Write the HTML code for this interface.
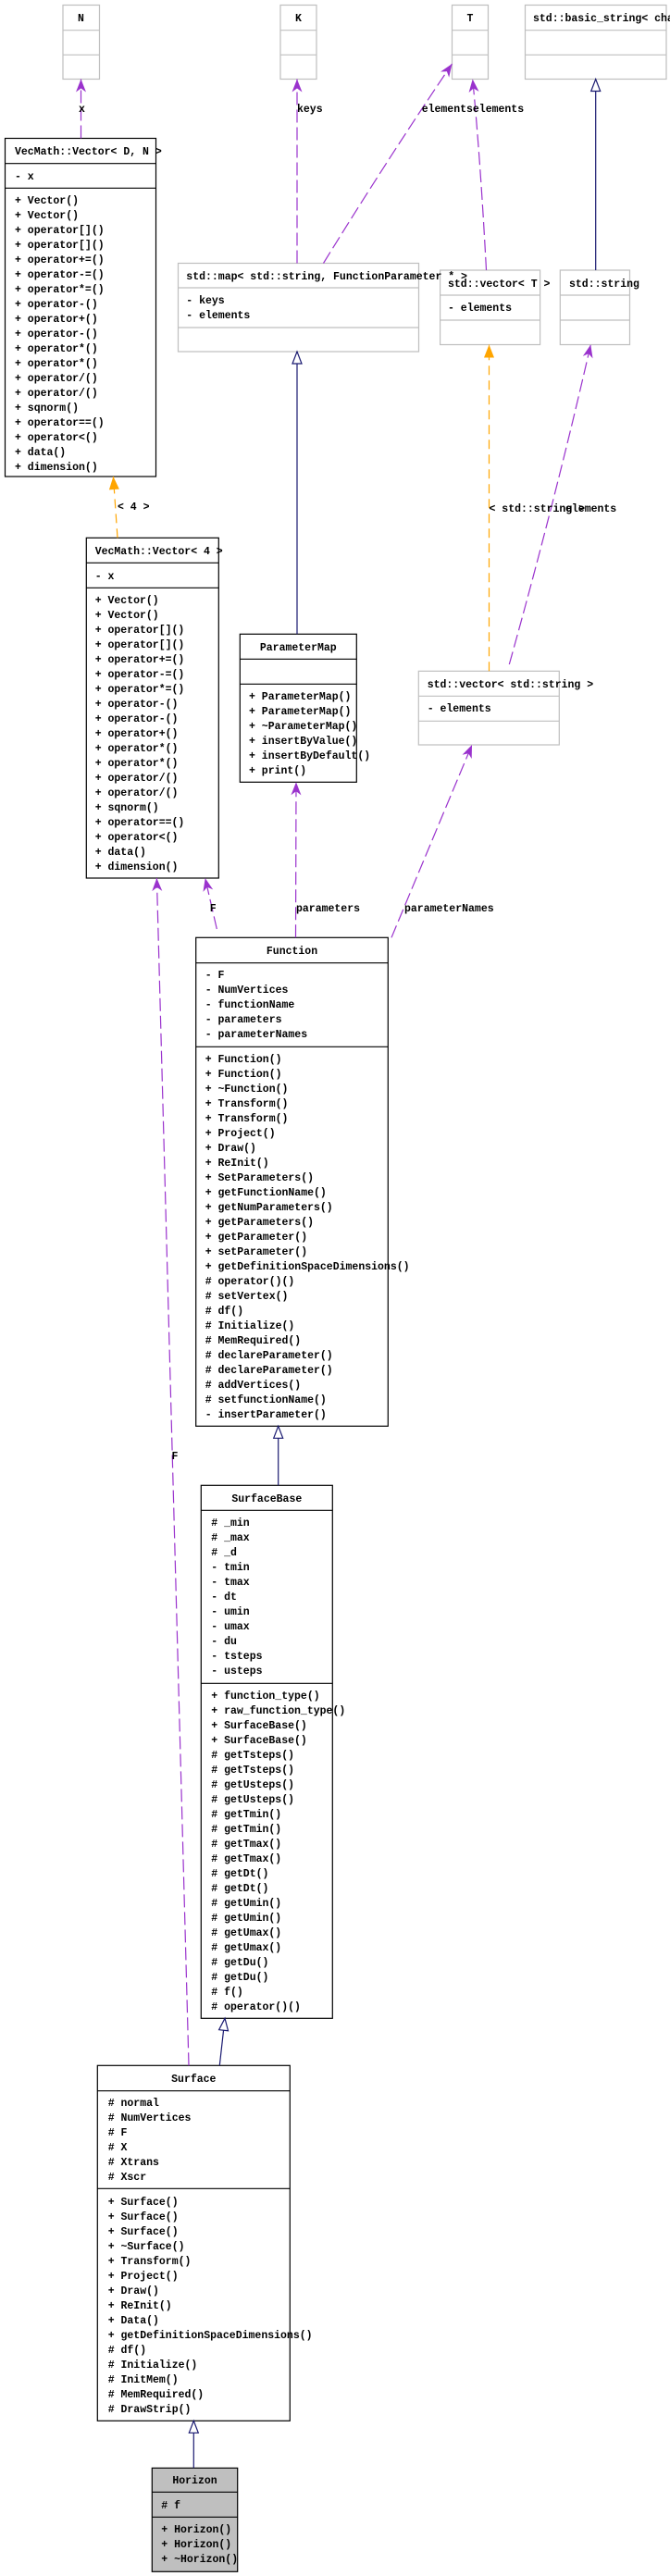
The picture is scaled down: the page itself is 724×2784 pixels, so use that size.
<!DOCTYPE html>
<html><head><meta charset="utf-8"><style>
html,body{margin:0;padding:0;background:#fff;}
svg{display:block;}
text{font-family:"Liberation Mono",monospace;font-size:11.5px;font-weight:bold;fill:#000;}
</style></head><body>
<svg width="724" height="2784" viewBox="0 0 724 2784" xmlns="http://www.w3.org/2000/svg">
<defs>
<marker id="pv" markerUnits="userSpaceOnUse" orient="auto" overflow="visible" refX="0" refY="0" markerWidth="1" markerHeight="1"><path d="M-14,-5.5 L0,0 L-14,5.5 L-10,0 Z" fill="#9a32cd"/></marker>
<marker id="po" markerUnits="userSpaceOnUse" orient="auto" overflow="visible" refX="0" refY="0" markerWidth="1" markerHeight="1"><path d="M-14,-5.5 L0,0 L-14,5.5 Z" fill="#ffa500"/></marker>
<marker id="pn" markerUnits="userSpaceOnUse" orient="auto" overflow="visible" refX="0" refY="0" markerWidth="1" markerHeight="1"><path d="M-13,-5 L0,0 L-13,5 Z" fill="#fff" stroke="#191970" stroke-width="1.2"/></marker>
</defs>

<g fill="#fff" stroke="#bfbfbf" stroke-width="1.2">
<rect x="68" y="5.5" width="39.5" height="80"/><line x1="68" y1="32.7" x2="107.5" y2="32.7"/><line x1="68" y1="59.3" x2="107.5" y2="59.3"/>
<rect x="303" y="5.5" width="39" height="80"/><line x1="303" y1="32.7" x2="342" y2="32.7"/><line x1="303" y1="59.3" x2="342" y2="59.3"/>
<rect x="488.5" y="5.5" width="39" height="80"/><line x1="488.5" y1="32.7" x2="527.5" y2="32.7"/><line x1="488.5" y1="59.3" x2="527.5" y2="59.3"/>
<rect x="567.5" y="5.5" width="152.5" height="80"/><line x1="567.5" y1="32.7" x2="720" y2="32.7"/><line x1="567.5" y1="59.3" x2="720" y2="59.3"/>
<rect x="192.5" y="284.5" width="260" height="95.5"/><line x1="192.5" y1="311" x2="452.5" y2="311"/><line x1="192.5" y1="354" x2="452.5" y2="354"/>
<rect x="475.6" y="292" width="108" height="80.5"/><line x1="475.6" y1="319" x2="583.6" y2="319"/><line x1="475.6" y1="346" x2="583.6" y2="346"/>
<rect x="605.3" y="292" width="75.2" height="80.5"/><line x1="605.3" y1="319" x2="680.5" y2="319"/><line x1="605.3" y1="346" x2="680.5" y2="346"/>
<rect x="452.3" y="725.3" width="152" height="79.7"/><line x1="452.3" y1="752.3" x2="604.3" y2="752.3"/><line x1="452.3" y1="779.3" x2="604.3" y2="779.3"/>
</g>

<g fill="#fff" stroke="#000" stroke-width="1.2">
<rect x="5.5" y="149.5" width="163" height="365.5"/><line x1="5.5" y1="176.7" x2="168.5" y2="176.7"/><line x1="5.5" y1="203.3" x2="168.5" y2="203.3"/>
<rect x="93.3" y="581.3" width="143" height="367.7"/><line x1="93.3" y1="608.3" x2="236.3" y2="608.3"/><line x1="93.3" y1="635.3" x2="236.3" y2="635.3"/>
<rect x="259.3" y="685.3" width="126" height="160"/><line x1="259.3" y1="712.3" x2="385.3" y2="712.3"/><line x1="259.3" y1="739.3" x2="385.3" y2="739.3"/>
<rect x="211.7" y="1013.3" width="207.6" height="528"/><line x1="211.7" y1="1040.7" x2="419.3" y2="1040.7"/><line x1="211.7" y1="1131.3" x2="419.3" y2="1131.3"/>
<rect x="217.3" y="1605.3" width="142" height="576"/><line x1="217.3" y1="1632.3" x2="359.3" y2="1632.3"/><line x1="217.3" y1="1819.3" x2="359.3" y2="1819.3"/>
<rect x="105.3" y="2232.3" width="208" height="384"/><line x1="105.3" y1="2259.7" x2="313.3" y2="2259.7"/><line x1="105.3" y1="2365.3" x2="313.3" y2="2365.3"/>
<rect x="164.3" y="2667.3" width="92.4" height="112" fill="#bfbfbf"/><line x1="164.3" y1="2693.3" x2="256.7" y2="2693.3"/><line x1="164.3" y1="2720.3" x2="256.7" y2="2720.3"/>
</g>

<g fill="none" stroke-width="1.2">
<line x1="87.5" y1="149.5" x2="87.5" y2="85.5" stroke="#9a32cd" stroke-dasharray="14,5" marker-end="url(#pv)"/>
<line x1="321" y1="284.5" x2="321" y2="85.5" stroke="#9a32cd" stroke-dasharray="14,5" marker-end="url(#pv)"/>
<path d="M349.5,284.5 Q420,170 488.5,69" stroke="#9a32cd" stroke-dasharray="14,5" marker-end="url(#pv)"/>
<path d="M525.5,292 Q519,170 510.7,85.5" stroke="#9a32cd" stroke-dasharray="14,5" marker-end="url(#pv)"/>
<line x1="643.7" y1="292" x2="643.7" y2="85.5" stroke="#191970" marker-end="url(#pn)"/>
<line x1="321" y1="685.3" x2="321" y2="380" stroke="#191970" marker-end="url(#pn)"/>
<line x1="127" y1="581.3" x2="122.4" y2="515" stroke="#ffa500" stroke-dasharray="10,6" marker-end="url(#po)"/>
<line x1="528.5" y1="725.3" x2="528.5" y2="372.5" stroke="#ffa500" stroke-dasharray="10,6" marker-end="url(#po)"/>
<path d="M550.3,718 Q600,540 638.3,372.5" stroke="#9a32cd" stroke-dasharray="14,5" marker-end="url(#pv)"/>
<line x1="234.3" y1="1004" x2="221.7" y2="949" stroke="#9a32cd" stroke-dasharray="14,5" marker-end="url(#pv)"/>
<line x1="319.5" y1="1013.3" x2="320" y2="845.3" stroke="#9a32cd" stroke-dasharray="14,5" marker-end="url(#pv)"/>
<line x1="423" y1="1013.3" x2="510" y2="805" stroke="#9a32cd" stroke-dasharray="14,5" marker-end="url(#pv)"/>
<line x1="204" y1="2232.3" x2="169.4" y2="949" stroke="#9a32cd" stroke-dasharray="14,5" marker-end="url(#pv)"/>
<line x1="300.7" y1="1605.3" x2="300.7" y2="1541.3" stroke="#191970" marker-end="url(#pn)"/>
<line x1="237.3" y1="2232.3" x2="243" y2="2181.3" stroke="#191970" marker-end="url(#pn)"/>
<line x1="209.3" y1="2667.3" x2="209.3" y2="2616.3" stroke="#191970" marker-end="url(#pn)"/>
</g>

<text x="85" y="121">x</text>
<text x="321" y="121">keys</text>
<text x="455.7" y="121">elementselements</text>
<text x="127" y="551">&lt; 4 &gt;</text>
<text x="528.5" y="553">&lt; std::string &gt;</text>
<text x="611" y="553">elements</text>
<text x="226.7" y="985">F</text>
<text x="320" y="985">parameters</text>
<text x="437" y="985">parameterNames</text>
<text x="185.5" y="1577">F</text>

<text x="87.5" y="23" text-anchor="middle">N</text>
<text x="322.5" y="23" text-anchor="middle">K</text>
<text x="508" y="23" text-anchor="middle">T</text>
<text x="576" y="23">std::basic_string&lt; char &gt;</text>
<text x="16" y="167">VecMath::Vector&lt; D, N &gt;</text>
<text x="201.3" y="302">std::map&lt; std::string, FunctionParameter * &gt;</text>
<text x="484" y="310">std::vector&lt; T &gt;</text>
<text x="615" y="310">std::string</text>
<text x="461.7" y="743">std::vector&lt; std::string &gt;</text>
<text x="102.7" y="599">VecMath::Vector&lt; 4 &gt;</text>
<text x="322.3" y="703" text-anchor="middle">ParameterMap</text>
<text x="315.5" y="1031" text-anchor="middle">Function</text>
<text x="288.3" y="1623" text-anchor="middle">SurfaceBase</text>
<text x="209.3" y="2250" text-anchor="middle">Surface</text>
<text x="210.5" y="2684" text-anchor="middle">Horizon</text>

<text x="16" y="194">- x</text>
<text x="16" y="220"><tspan x="16" y="220">+ Vector()</tspan><tspan x="16" dy="16">+ Vector()</tspan><tspan x="16" dy="16">+ operator[]()</tspan><tspan x="16" dy="16">+ operator[]()</tspan><tspan x="16" dy="16">+ operator+=()</tspan><tspan x="16" dy="16">+ operator-=()</tspan><tspan x="16" dy="16">+ operator*=()</tspan><tspan x="16" dy="16">+ operator-()</tspan><tspan x="16" dy="16">+ operator+()</tspan><tspan x="16" dy="16">+ operator-()</tspan><tspan x="16" dy="16">+ operator*()</tspan><tspan x="16" dy="16">+ operator*()</tspan><tspan x="16" dy="16">+ operator/()</tspan><tspan x="16" dy="16">+ operator/()</tspan><tspan x="16" dy="16">+ sqnorm()</tspan><tspan x="16" dy="16">+ operator==()</tspan><tspan x="16" dy="16">+ operator&lt;()</tspan><tspan x="16" dy="16">+ data()</tspan><tspan x="16" dy="16">+ dimension()</tspan></text>

<text x="201.3" y="328"><tspan x="201.3" y="328">- keys</tspan><tspan x="201.3" dy="16">- elements</tspan></text>
<text x="484" y="336">- elements</text>
<text x="461.7" y="769">- elements</text>

<text x="102.7" y="626">- x</text>
<text x="102.7" y="652"><tspan x="102.7" y="652">+ Vector()</tspan><tspan x="102.7" dy="16">+ Vector()</tspan><tspan x="102.7" dy="16">+ operator[]()</tspan><tspan x="102.7" dy="16">+ operator[]()</tspan><tspan x="102.7" dy="16">+ operator+=()</tspan><tspan x="102.7" dy="16">+ operator-=()</tspan><tspan x="102.7" dy="16">+ operator*=()</tspan><tspan x="102.7" dy="16">+ operator-()</tspan><tspan x="102.7" dy="16">+ operator-()</tspan><tspan x="102.7" dy="16">+ operator+()</tspan><tspan x="102.7" dy="16">+ operator*()</tspan><tspan x="102.7" dy="16">+ operator*()</tspan><tspan x="102.7" dy="16">+ operator/()</tspan><tspan x="102.7" dy="16">+ operator/()</tspan><tspan x="102.7" dy="16">+ sqnorm()</tspan><tspan x="102.7" dy="16">+ operator==()</tspan><tspan x="102.7" dy="16">+ operator&lt;()</tspan><tspan x="102.7" dy="16">+ data()</tspan><tspan x="102.7" dy="16">+ dimension()</tspan></text>

<text x="269" y="756"><tspan x="269" y="756">+ ParameterMap()</tspan><tspan x="269" dy="16">+ ParameterMap()</tspan><tspan x="269" dy="16">+ ~ParameterMap()</tspan><tspan x="269" dy="16">+ insertByValue()</tspan><tspan x="269" dy="16">+ insertByDefault()</tspan><tspan x="269" dy="16">+ print()</tspan></text>

<text x="221.7" y="1057"><tspan x="221.7" y="1057">- F</tspan><tspan x="221.7" dy="16">- NumVertices</tspan><tspan x="221.7" dy="16">- functionName</tspan><tspan x="221.7" dy="16">- parameters</tspan><tspan x="221.7" dy="16">- parameterNames</tspan></text>
<text x="221.7" y="1148"><tspan x="221.7" y="1148">+ Function()</tspan><tspan x="221.7" dy="16">+ Function()</tspan><tspan x="221.7" dy="16">+ ~Function()</tspan><tspan x="221.7" dy="16">+ Transform()</tspan><tspan x="221.7" dy="16">+ Transform()</tspan><tspan x="221.7" dy="16">+ Project()</tspan><tspan x="221.7" dy="16">+ Draw()</tspan><tspan x="221.7" dy="16">+ ReInit()</tspan><tspan x="221.7" dy="16">+ SetParameters()</tspan><tspan x="221.7" dy="16">+ getFunctionName()</tspan><tspan x="221.7" dy="16">+ getNumParameters()</tspan><tspan x="221.7" dy="16">+ getParameters()</tspan><tspan x="221.7" dy="16">+ getParameter()</tspan><tspan x="221.7" dy="16">+ setParameter()</tspan><tspan x="221.7" dy="16">+ getDefinitionSpaceDimensions()</tspan><tspan x="221.7" dy="16"># operator()()</tspan><tspan x="221.7" dy="16"># setVertex()</tspan><tspan x="221.7" dy="16"># df()</tspan><tspan x="221.7" dy="16"># Initialize()</tspan><tspan x="221.7" dy="16"># MemRequired()</tspan><tspan x="221.7" dy="16"># declareParameter()</tspan><tspan x="221.7" dy="16"># declareParameter()</tspan><tspan x="221.7" dy="16"># addVertices()</tspan><tspan x="221.7" dy="16"># setfunctionName()</tspan><tspan x="221.7" dy="16">- insertParameter()</tspan></text>

<text x="228.3" y="1649"><tspan x="228.3" y="1649"># _min</tspan><tspan x="228.3" dy="16"># _max</tspan><tspan x="228.3" dy="16"># _d</tspan><tspan x="228.3" dy="16">- tmin</tspan><tspan x="228.3" dy="16">- tmax</tspan><tspan x="228.3" dy="16">- dt</tspan><tspan x="228.3" dy="16">- umin</tspan><tspan x="228.3" dy="16">- umax</tspan><tspan x="228.3" dy="16">- du</tspan><tspan x="228.3" dy="16">- tsteps</tspan><tspan x="228.3" dy="16">- usteps</tspan></text>
<text x="228.3" y="1836"><tspan x="228.3" y="1836">+ function_type()</tspan><tspan x="228.3" dy="16">+ raw_function_type()</tspan><tspan x="228.3" dy="16">+ SurfaceBase()</tspan><tspan x="228.3" dy="16">+ SurfaceBase()</tspan><tspan x="228.3" dy="16"># getTsteps()</tspan><tspan x="228.3" dy="16"># getTsteps()</tspan><tspan x="228.3" dy="16"># getUsteps()</tspan><tspan x="228.3" dy="16"># getUsteps()</tspan><tspan x="228.3" dy="16"># getTmin()</tspan><tspan x="228.3" dy="16"># getTmin()</tspan><tspan x="228.3" dy="16"># getTmax()</tspan><tspan x="228.3" dy="16"># getTmax()</tspan><tspan x="228.3" dy="16"># getDt()</tspan><tspan x="228.3" dy="16"># getDt()</tspan><tspan x="228.3" dy="16"># getUmin()</tspan><tspan x="228.3" dy="16"># getUmin()</tspan><tspan x="228.3" dy="16"># getUmax()</tspan><tspan x="228.3" dy="16"># getUmax()</tspan><tspan x="228.3" dy="16"># getDu()</tspan><tspan x="228.3" dy="16"># getDu()</tspan><tspan x="228.3" dy="16"># f()</tspan><tspan x="228.3" dy="16"># operator()()</tspan></text>

<text x="116.7" y="2276"><tspan x="116.7" y="2276"># normal</tspan><tspan x="116.7" dy="16"># NumVertices</tspan><tspan x="116.7" dy="16"># F</tspan><tspan x="116.7" dy="16"># X</tspan><tspan x="116.7" dy="16"># Xtrans</tspan><tspan x="116.7" dy="16"># Xscr</tspan></text>
<text x="116.7" y="2383"><tspan x="116.7" y="2383">+ Surface()</tspan><tspan x="116.7" dy="16">+ Surface()</tspan><tspan x="116.7" dy="16">+ Surface()</tspan><tspan x="116.7" dy="16">+ ~Surface()</tspan><tspan x="116.7" dy="16">+ Transform()</tspan><tspan x="116.7" dy="16">+ Project()</tspan><tspan x="116.7" dy="16">+ Draw()</tspan><tspan x="116.7" dy="16">+ ReInit()</tspan><tspan x="116.7" dy="16">+ Data()</tspan><tspan x="116.7" dy="16">+ getDefinitionSpaceDimensions()</tspan><tspan x="116.7" dy="16"># df()</tspan><tspan x="116.7" dy="16"># Initialize()</tspan><tspan x="116.7" dy="16"># InitMem()</tspan><tspan x="116.7" dy="16"># MemRequired()</tspan><tspan x="116.7" dy="16"># DrawStrip()</tspan></text>

<text x="174.3" y="2711"># f</text>
<text x="174.3" y="2737"><tspan x="174.3" y="2737">+ Horizon()</tspan><tspan x="174.3" dy="16">+ Horizon()</tspan><tspan x="174.3" dy="16">+ ~Horizon()</tspan></text>
</svg>
</body></html>
